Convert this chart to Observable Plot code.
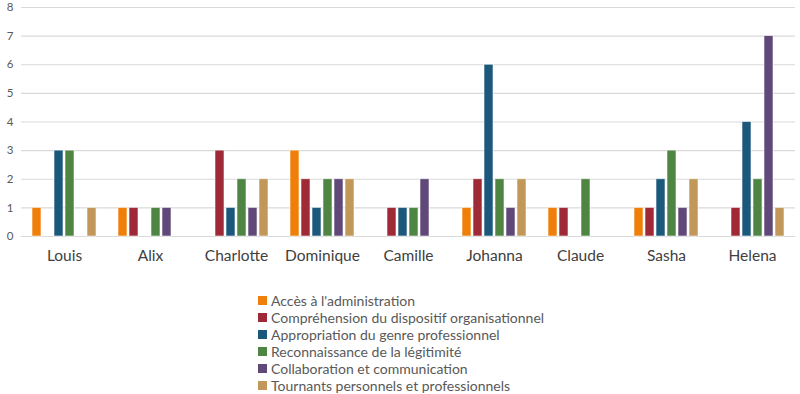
<!DOCTYPE html>
<html>
<head>
<meta charset="utf-8">
<script src="https://cdn.jsdelivr.net/npm/d3@7"></script>
<script src="https://cdn.jsdelivr.net/npm/@observablehq/plot@0.6"></script>
<style>
  body { margin: 0; background: #fff; font-family: Lato, "Open Sans", sans-serif; }
  #legend { position: absolute; left: 258px; top: 292px; font-size: 14px; color: #595959; line-height: 17px; }
  #legend .item { display: flex; align-items: center; white-space: nowrap; }
  #legend .sw { width: 9px; height: 9px; margin-right: 4px; flex: none; }
</style>
</head>
<body>
<div id="chart"></div>
<div id="legend"></div>
<script>
const names = ["Louis", "Alix", "Charlotte", "Dominique", "Camille", "Johanna", "Claude", "Sasha", "Helena"];
const seriesNames = [
  "Accès à l'administration",
  "Compréhension du dispositif organisationnel",
  "Appropriation du genre professionnel",
  "Reconnaissance de la légitimité",
  "Collaboration et communication",
  "Tournants personnels et professionnels"
];
const colors = ["#f07f09", "#9f2936", "#1b587c", "#4e8542", "#604878", "#c19859"];
const acces          = [1, 1, 0, 3, 0, 1, 1, 1, 0];
const comprehension  = [0, 1, 3, 2, 1, 2, 1, 1, 1];
const appropriation  = [3, 0, 1, 1, 1, 6, 0, 2, 4];
const reconnaissance = [3, 1, 2, 2, 1, 2, 2, 3, 2];
const collaboration  = [0, 1, 1, 2, 2, 1, 0, 1, 7];
const tournants      = [1, 0, 2, 2, 0, 2, 0, 2, 1];
const yTicks = [0, 1, 2, 3, 4, 5, 6, 7, 8];

const seriesValues = [acces, comprehension, appropriation, reconnaissance, collaboration, tournants];
const rows = [];
names.forEach((n, i) => seriesValues.forEach((vals, s) => {
  rows.push({name: n, series: seriesNames[s], value: vals[i]});
}));

const chart = Plot.plot({
  width: 800,
  height: 276,
  marginLeft: 20,
  marginRight: 5,
  marginTop: 7,
  marginBottom: 40,
  style: {fontFamily: "Lato, 'Open Sans', sans-serif", color: "#595959", background: "#fff", overflow: "visible"},
  fx: {domain: names, paddingInner: 0, paddingOuter: 0, label: null},
  x: {domain: seriesNames, paddingInner: 0.21, paddingOuter: 0.875, axis: null},
  y: {domain: [0, 8], label: null, ticks: yTicks},
  color: {domain: seriesNames, range: colors},
  marks: [
    Plot.ruleY(yTicks, {stroke: "#d9d9d9", strokeWidth: 1.2}),
    Plot.barY(rows, {fx: "name", x: "series", y: "value", fill: "series", stroke: "#ffffff", strokeWidth: 0.8, strokeOpacity: 0.7, inset: 0}),
    Plot.axisY(yTicks, {tickSize: 0, tickPadding: 8, fontSize: 11.5, fill: "#595959", label: null}),
    Plot.axisFx({anchor: "bottom", tickSize: 0, tickPadding: 13, fontSize: 15.5, fill: "#404040", label: null})
  ]
});
document.getElementById("chart").appendChild(chart);

const legend = document.getElementById("legend");
seriesNames.forEach((s, i) => {
  const item = document.createElement("div");
  item.className = "item";
  const sw = document.createElement("span");
  sw.className = "sw";
  sw.style.background = colors[i];
  const t = document.createElement("span");
  t.textContent = s;
  item.appendChild(sw);
  item.appendChild(t);
  legend.appendChild(item);
});
</script>
</body>
</html>
